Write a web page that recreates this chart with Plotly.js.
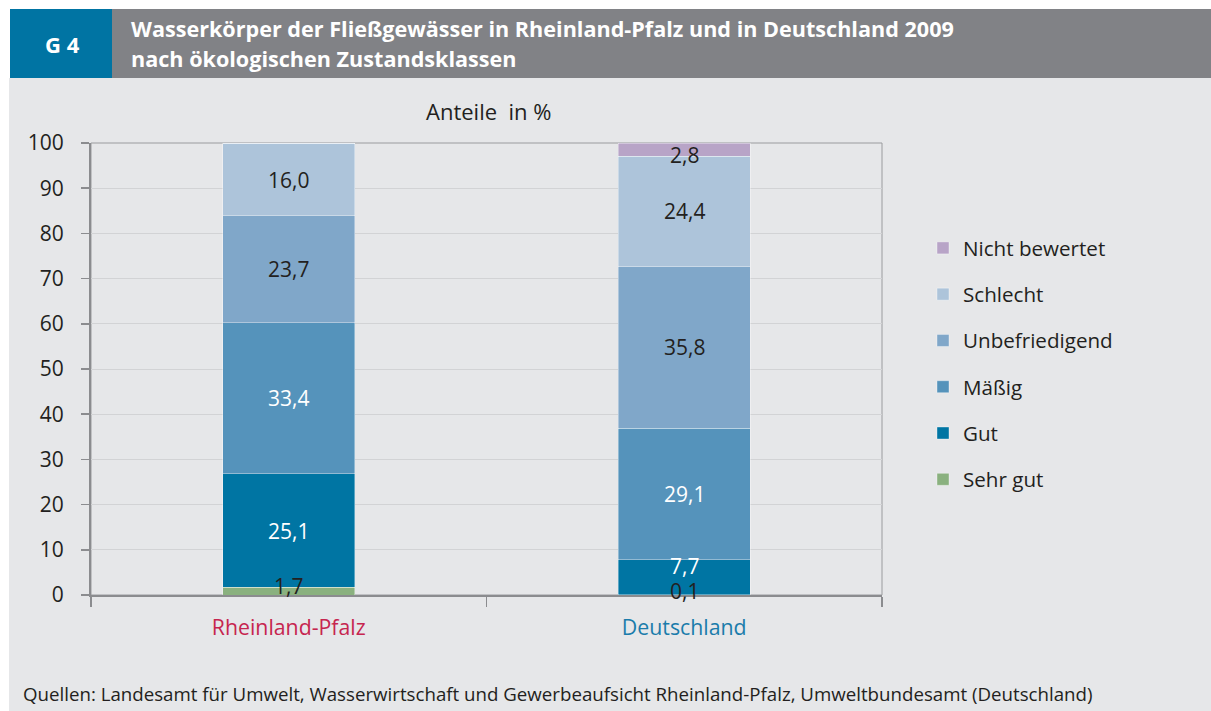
<!DOCTYPE html>
<html>
<head>
<meta charset="utf-8">
<script src="https://cdn.plot.ly/plotly-3.0.1.min.js"></script>
<style>html,body{margin:0;padding:0;background:#fff;}#chart{width:1211px;height:711px;}</style>
</head>
<body>
<div id="chart"></div>
<script>
// ---- data ----
const categories = ["Rheinland-Pfalz", "Deutschland"];
const seriesNames = ["Sehr gut", "Gut", "Mäßig", "Unbefriedigend", "Schlecht", "Nicht bewertet"];
const sehrGut = [1.7, 0.1];
const gut = [25.1, 7.7];
const maessig = [33.4, 29.1];
const unbefriedigend = [23.7, 35.8];
const schlecht = [16.0, 24.4];
const nichtBewertet = [0, 2.8];
const tickLabels = ["Rheinland-Pfalz", "Deutschland"];
const yTicks = [0, 10, 20, 30, 40, 50, 60, 70, 80, 90, 100];

// ---- styling ----
const seriesValues = [sehrGut, gut, maessig, unbefriedigend, schlecht, nichtBewertet];
const colors = ["#8ab17f", "#0075a3", "#5593bb", "#80a7c9", "#adc4da", "#b8a4c7"];
const labelColors = ["#231f20", "#ffffff", "#ffffff", "#231f20", "#231f20", "#231f20"];
// pixel nudges of labels (like the original's overlap avoidance), [series][category]
const labelShift = [[5, 4], [0, 11], [0, 0], [0, 0], [0, 0], [0, -5]];
const catColors = ["#c6254f", "#1a7cab"];
const FONT = "Open Sans, Noto Sans, sans-serif";

// plot area in px
const L = 91, R = 882, T = 143, B = 595, W = 1211, H = 711;
const px = x => (x - L) / (R - L);
const py = y => (B - y) / (B - T);

const traces = seriesNames.map((name, i) => ({
  type: "bar",
  name: name,
  x: categories,
  y: seriesValues[i],
  width: 0.334,
  marker: {color: colors[i], line: {color: "rgba(255,255,255,0.45)", width: 0.8}},
  legendgroup: "g" + i,
  legendrank: seriesNames.length - i,
  hoverinfo: "name+y"
}));

// data labels via annotations at segment midpoints
const annotations = [];
const cum = categories.map(() => 0);
seriesValues.forEach((vals, i) => {
  vals.forEach((v, j) => {
    const base = cum[j];
    cum[j] += v;
    if (v <= 0) return;
    annotations.push({
      xref: "x", yref: "y", x: categories[j], y: base + v / 2,
      text: v.toFixed(1).replace(".", ","),
      showarrow: false,
      font: {family: FONT, size: 21, color: labelColors[i]},
      yshift: labelShift[i][j]
    });
  });
});

// header and texts
annotations.push(
  {xref: "paper", yref: "paper", x: px(62), y: py(44), text: "<b>G 4</b>", showarrow: false,
   xanchor: "center", yanchor: "middle", font: {family: FONT, size: 22, color: "#ffffff"}},
  {xref: "paper", yref: "paper", x: px(129), y: py(29), text: "<b>Wasserkörper der Fließgewässer in Rheinland-Pfalz und in Deutschland 2009</b>",
   showarrow: false, xanchor: "left", yanchor: "middle", font: {family: FONT, size: 21.6, color: "#ffffff"}},
  {xref: "paper", yref: "paper", x: px(129), y: py(59), text: "<b>nach ökologischen Zustandsklassen</b>",
   showarrow: false, xanchor: "left", yanchor: "middle", font: {family: FONT, size: 21.6, color: "#ffffff"}},
  {xref: "paper", yref: "paper", x: px(488), y: py(111), text: "Anteile  in %",
   showarrow: false, xanchor: "center", yanchor: "middle", font: {family: FONT, size: 22, color: "#231f20"}},
  {xref: "paper", yref: "paper", x: px(21), y: py(693), text: "Quellen: Landesamt für Umwelt, Wasserwirtschaft und Gewerbeaufsicht Rheinland-Pfalz, Umweltbundesamt (Deutschland)",
   showarrow: false, xanchor: "left", yanchor: "middle", font: {family: FONT, size: 18.7, color: "#231f20"}}
);

const shapes = [
  {type: "rect", xref: "paper", yref: "paper", x0: px(9), x1: px(W), y0: py(78), y1: py(H),
   fillcolor: "#e6e7e9", line: {width: 0}, layer: "below"},
  {type: "rect", xref: "paper", yref: "paper", x0: px(10), x1: px(112), y0: py(9), y1: py(78),
   fillcolor: "#0074a3", line: {width: 0}, layer: "below"},
  {type: "rect", xref: "paper", yref: "paper", x0: px(112), x1: px(W), y0: py(9), y1: py(78),
   fillcolor: "#818286", line: {width: 0}, layer: "below"},
  {type: "rect", xref: "paper", yref: "paper", x0: 0, x1: 1, y0: 0, y1: 1,
   fillcolor: "rgba(0,0,0,0)", line: {color: "#9a9b9e", width: 1}, layer: "below"}
];

const layout = {
  width: W, height: H,
  margin: {l: L, r: W - R, t: T, b: H - B, pad: 0},
  paper_bgcolor: "#ffffff",
  plot_bgcolor: "rgba(0,0,0,0)",
  barmode: "stack",
  font: {family: FONT, size: 20, color: "#231f20"},
  showlegend: true,
  legend: {
    x: px(923), y: py(228), xanchor: "left", yanchor: "top",
    traceorder: "grouped", tracegroupgap: 16.5,
    bgcolor: "rgba(0,0,0,0)", font: {family: FONT, size: 20.6, color: "#231f20"}
  },
  xaxis: {
    type: "category",
    tickvals: categories,
    ticktext: tickLabels.map((t, i) => '<span style="color:' + catColors[i] + '">' + t + '</span>'),
    tickson: "boundaries", ticks: "outside", ticklen: 10, tickcolor: "#8b8c8f", tickwidth: 1.5,
    showline: true, linecolor: "#8b8c8f", linewidth: 2,
    showgrid: false, zeroline: false,
    ticklabelstandoff: 12,
    tickfont: {family: FONT, size: 21.3}
  },
  yaxis: {
    range: [0, 100], tickvals: yTicks, ticktext: yTicks.map(String),
    ticks: "outside", ticklen: 8, tickcolor: "#8b8c8f", tickwidth: 1.5,
    showline: true, linecolor: "#8b8c8f", linewidth: 2,
    showgrid: true, gridcolor: "#d2d3d5", gridwidth: 1, zeroline: false,
    ticklabelstandoff: 13,
    tickfont: {family: FONT, size: 21, color: "#231f20"}
  },
  annotations: annotations,
  shapes: shapes
};

Plotly.newPlot("chart", traces, layout, {staticPlot: true, displayModeBar: false});
</script>
</body>
</html>
